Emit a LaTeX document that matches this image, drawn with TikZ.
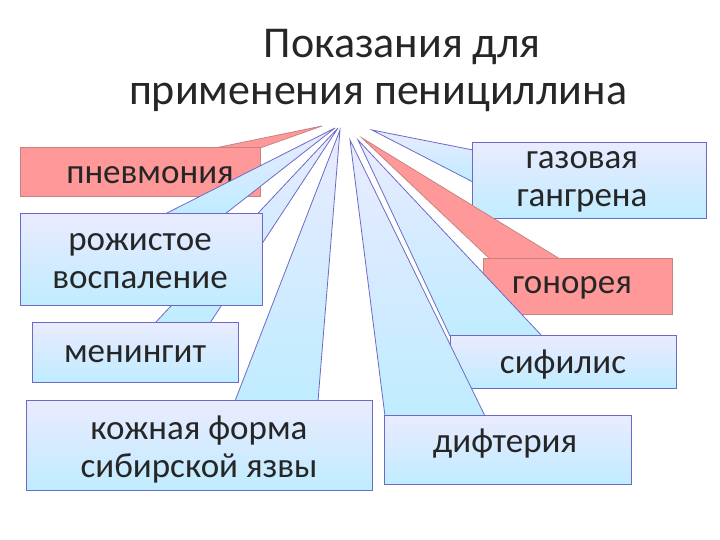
\documentclass[tikz,border=0pt]{standalone}
\usepackage{fontspec}
\setmainfont{Carlito}
\begin{document}
\begin{tikzpicture}[x=1pt,y=-1pt,
  blu/.style={draw=blue!45!gray!80, line width=0.8pt, top color=blue!8, bottom color=blue!30!cyan!25!white},
  pnk/.style={draw=red!40!gray!70, line width=0.8pt, fill=red!40!white},
  lbl/.style={font=\fontsize{35}{38}\selectfont, align=center, text=black!85}]
\useasboundingbox (0,0) rectangle (720,540);
\node[font=\fontsize{44}{47}\selectfont, align=center, text=black!85] (title) at (378,70) {\hspace*{1.1em}Показания для\\применения пенициллина};
% pneumonia
\coordinate (tA) at (322,126);
\draw[pnk] (215,148) -- (tA) -- (260,148) -- cycle;
\node[pnk, minimum width=240, minimum height=49, anchor=north west] (b1) at (20,147) {};
\node[lbl] at (150,175) {пневмония};
% meningit
\coordinate (tC) at (338,128);
\draw[blu] (155,323) -- (tC) -- (210,323) -- cycle;
\node[blu, minimum width=206, minimum height=60, anchor=north west] (b3) at (32,322) {};
\node[lbl] at (135,354) {менингит};
% rozhistoe
\coordinate (tB) at (335,128);
\draw[blu] (165,214) -- (tB) -- (225,214) -- cycle;
\node[blu, minimum width=242, minimum height=92, anchor=north west] (b2) at (20,213) {};
\node[lbl] at (140,261) {рожистое\\воспаление};
% kozhnaya
\coordinate (tD) at (340,130);
\draw[blu] (235,401) -- (tD) -- (318,401) -- cycle;
\node[blu, minimum width=346, minimum height=90, anchor=north west] (b4) at (26,400) {};
\node[lbl] at (199,449) {кожная форма\\сибирской язвы};
% gazovaya
\coordinate (tE) at (372,130);
\draw[blu] (473,150) -- (tE) -- (473,182) -- cycle;
\node[blu, minimum width=234, minimum height=76, anchor=north west] (b5) at (472,142) {};
\node[lbl] at (582,182) {газовая\\гангрена};
% gonoreya
\coordinate (tF) at (362,138);
\draw[pnk] (490,259) -- (tF) -- (560,259) -- cycle;
\node[pnk, minimum width=189, minimum height=56, anchor=north west] (b6) at (483,258) {};
\node[lbl] at (572,288) {гонорея};
% sifilis
\coordinate (tG) at (358,140);
\draw[blu] (450,336) -- (tG) -- (542,336) -- cycle;
\node[blu, minimum width=226, minimum height=53, anchor=north west] (b7) at (450,335) {};
\node[lbl] at (563,365) {сифилис};
% difteriya
\coordinate (tH) at (350,140);
\draw[blu] (385,416) -- (tH) -- (485,416) -- cycle;
\node[blu, minimum width=247, minimum height=69, anchor=north west] (b8) at (384,415) {};
\node[lbl] at (505,444) {дифтерия};
\end{tikzpicture}
\end{document}
